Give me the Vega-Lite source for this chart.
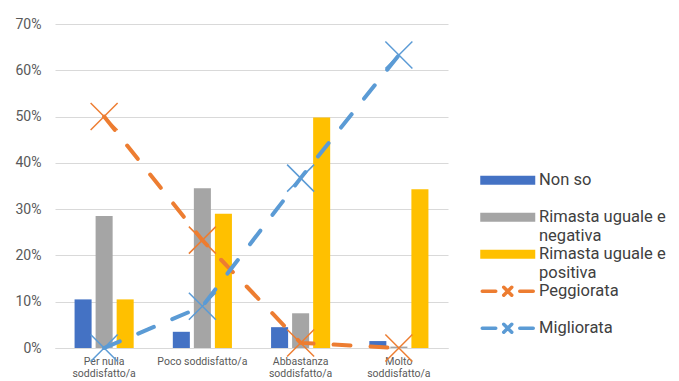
{
  "$schema": "https://vega.github.io/schema/vega-lite/v6.json",
  "width": 393,
  "height": 324,
  "autosize": "none",
  "padding": {"left": 55, "top": 24, "right": 231, "bottom": 33},
  "background": "white",
  "config": {"view": {"stroke": null}, "font": "Roboto"},
  "data": {
    "values": [
      {"cat": "Per nulla soddisfatto/a", "series": "Non so", "value": 0.105},
      {"cat": "Per nulla soddisfatto/a", "series": "Rimasta uguale e negativa", "value": 0.285},
      {"cat": "Per nulla soddisfatto/a", "series": "Rimasta uguale e positiva", "value": 0.105},
      {"cat": "Per nulla soddisfatto/a", "series": "Peggiorata", "value": 0.5},
      {"cat": "Per nulla soddisfatto/a", "series": "Migliorata", "value": 0.0},
      {"cat": "Poco soddisfatto/a", "series": "Non so", "value": 0.035},
      {"cat": "Poco soddisfatto/a", "series": "Rimasta uguale e negativa", "value": 0.345},
      {"cat": "Poco soddisfatto/a", "series": "Rimasta uguale e positiva", "value": 0.29},
      {"cat": "Poco soddisfatto/a", "series": "Peggiorata", "value": 0.233},
      {"cat": "Poco soddisfatto/a", "series": "Migliorata", "value": 0.09},
      {"cat": "Abbastanza soddisfatto/a", "series": "Non so", "value": 0.045},
      {"cat": "Abbastanza soddisfatto/a", "series": "Rimasta uguale e negativa", "value": 0.075},
      {"cat": "Abbastanza soddisfatto/a", "series": "Rimasta uguale e positiva", "value": 0.498},
      {"cat": "Abbastanza soddisfatto/a", "series": "Peggiorata", "value": 0.011},
      {"cat": "Abbastanza soddisfatto/a", "series": "Migliorata", "value": 0.367},
      {"cat": "Molto soddisfatto/a", "series": "Non so", "value": 0.015},
      {"cat": "Molto soddisfatto/a", "series": "Rimasta uguale e negativa", "value": 0.003},
      {"cat": "Molto soddisfatto/a", "series": "Rimasta uguale e positiva", "value": 0.343},
      {"cat": "Molto soddisfatto/a", "series": "Peggiorata", "value": 0.0},
      {"cat": "Molto soddisfatto/a", "series": "Migliorata", "value": 0.633}
    ]
  },
  "encoding": {
    "x": {
      "field": "cat",
      "type": "nominal",
      "sort": ["Per nulla soddisfatto/a", "Poco soddisfatto/a", "Abbastanza soddisfatto/a", "Molto soddisfatto/a"],
      "scale": {"paddingInner": 0, "paddingOuter": 0},
      "axis": {
        "title": null,
        "labelAngle": 0,
        "labelFontSize": 10.5,
        "labelColor": "#595959",
        "labelPadding": 8,
        "labelLineHeight": 12.5,
        "ticks": false,
        "domainColor": "#D9D9D9",
        "labelExpr": "datum.value == 'Per nulla soddisfatto/a' ? ['Per nulla','soddisfatto/a'] : datum.value == 'Abbastanza soddisfatto/a' ? ['Abbastanza','soddisfatto/a'] : datum.value == 'Molto soddisfatto/a' ? ['Molto','soddisfatto/a'] : datum.value"
      }
    },
    "y": {
      "field": "value",
      "type": "quantitative",
      "scale": {"domain": [0, 0.7]},
      "axis": {
        "title": null,
        "values": [0, 0.1, 0.2, 0.3, 0.4, 0.5, 0.6, 0.7],
        "format": ".0%",
        "labelFontSize": 14,
        "labelColor": "#595959",
        "labelPadding": 14,
        "ticks": false,
        "domain": false,
        "gridColor": "#D9D9D9",
        "gridWidth": 1
      }
    },
    "color": {
      "field": "series",
      "type": "nominal",
      "scale": {
        "domain": ["Non so", "Rimasta uguale e negativa", "Rimasta uguale e positiva", "Peggiorata", "Migliorata"],
        "range": ["#4472C4", "#A5A5A5", "#FFC000", "#ED7D31", "#5B9BD5"]
      },
      "legend": {
        "title": null,
        "orient": "none",
        "legendX": 423,
        "legendY": 148,
        "symbolSize": 100,
        "symbolOffset": 21.5,
        "labelOffset": 23,
        "labelFontSize": 16.5,
        "labelColor": "#404040",
        "labelLimit": 300,
        "gridAlign": "all",
        "rowPadding": -2,
        "labelExpr": "datum.value == 'Rimasta uguale e negativa' ? ['Rimasta uguale e','negativa'] : datum.value == 'Rimasta uguale e positiva' ? ['Rimasta uguale e','positiva'] : datum.label",
        "encode": {
          "symbols": {
            "update": {
              "shape": {"signal": "(datum.value == 'Peggiorata' || datum.value == 'Migliorata') ? 'M-5.1,0L-2.4,0M2.4,0L5.1,0M-0.8,-0.8L0.8,0.8M-0.8,0.8L0.8,-0.8' : 'M-5.5,-0.9L5.5,-0.9L5.5,0.9L-5.5,0.9Z'"},
              "fill": {"signal": "(datum.value == 'Peggiorata' || datum.value == 'Migliorata') ? 'transparent' : scale('color', datum.value)"},
              "stroke": {"signal": "scale('color', datum.value)"},
              "strokeWidth": {"signal": "(datum.value == 'Peggiorata' || datum.value == 'Migliorata') ? 3.5 : 0"},
              "strokeCap": {"value": "round"},
              "opacity": {"value": 1}
            }
          }
        }
      }
    }
  },
  "layer": [
    {
      "transform": [{"filter": "datum.series != 'Peggiorata' && datum.series != 'Migliorata'"}],
      "mark": {"type": "bar"},
      "encoding": {
        "xOffset": {
          "field": "series",
          "type": "nominal",
          "sort": ["Non so", "Rimasta uguale e negativa", "Rimasta uguale e positiva"],
          "scale": {"paddingInner": 0.19, "paddingOuter": 0.93}
        }
      }
    },
    {
      "transform": [{"filter": "datum.series == 'Peggiorata' || datum.series == 'Migliorata'"}],
      "mark": {"type": "line", "strokeWidth": 4, "strokeDash": [17, 20], "strokeCap": "round"},
      "encoding": {}
    },
    {
      "transform": [{"filter": "datum.series == 'Peggiorata' || datum.series == 'Migliorata'"}],
      "mark": {"type": "point", "shape": "M-1,-1L1,1M-1,1L1,-1", "size": 729, "filled": false, "strokeWidth": 1.5, "opacity": 1},
      "encoding": {}
    }
  ]
}
